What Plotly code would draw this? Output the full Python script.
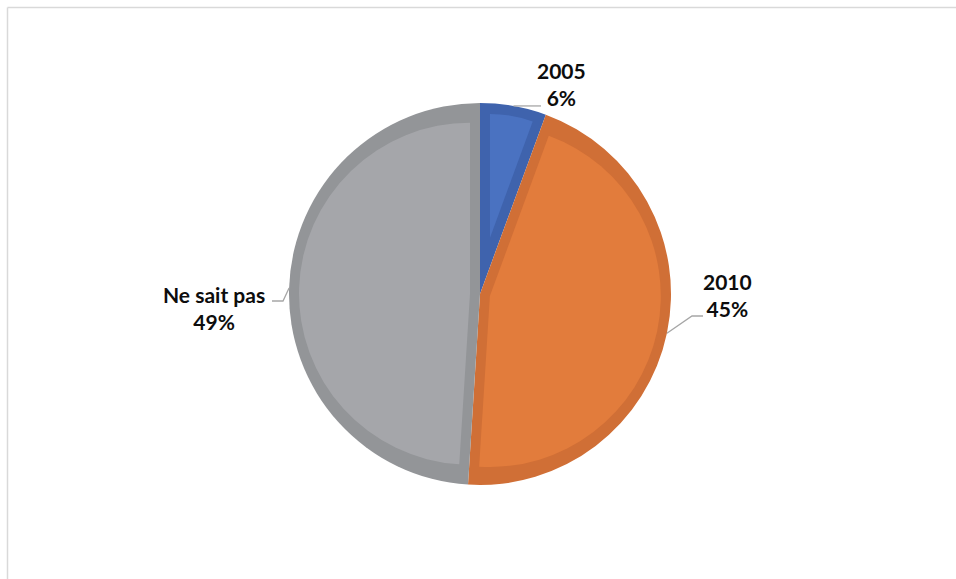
import math
import plotly.graph_objects as go

# ---- data ----
categories = ["2005", "2010", "Ne sait pas"]
values = [5.6, 45.4, 49.0]

# ---- styles ----
light_colors = ["#4A72C1", "#E27C3C", "#A5A6AA"]
dark_colors = ["#3F63AD", "#D06F36", "#939598"]

W, H = 956, 579
CX, CY = 480, 294       # pie centre (px)
R = 191                 # pie radius (px)
BAND = 10               # darker inner border width (px)

# label block centres and leader waypoints (px)
label_pos = {"2005": (561, 84), "2010": (727, 295), "Ne sait pas": (214, 308)}
leader_pts = {"2005": [(541, None)], "2010": [(692, 316), (703, 316)],
              "Ne sait pas": [(283, 301), (272, 301)]}


def px(x, y):
    return x / W, 1 - y / H


def domain(half):
    return dict(x=[(CX - half) / W, (CX + half) / W],
                y=[1 - (CY + half) / H, 1 - (CY - half) / H])


n = len(categories)
total = sum(values)
fracs = [v / total for v in values]

fig = go.Figure()

# dark full pie (border colour)
fig.add_trace(go.Pie(labels=categories, values=values, sort=False,
                     direction="clockwise", rotation=0,
                     marker=dict(colors=dark_colors, line=dict(width=0)),
                     textinfo="none", hoverinfo="skip", showlegend=False,
                     domain=domain(R)))

# lighter inset slices (one trace per slice, offset with pull)
inner = R - BAND
for k in range(n):
    half_angle = math.pi * fracs[k]
    d = BAND / math.sin(half_angle)
    r = inner - d
    pull = [0.0] * n
    pull[k] = d / r
    cols = ["rgba(0,0,0,0)"] * n
    cols[k] = light_colors[k]
    fig.add_trace(go.Pie(labels=categories, values=values, sort=False,
                         direction="clockwise", rotation=0, pull=pull,
                         marker=dict(colors=cols, line=dict(width=0)),
                         textinfo="none", hoverinfo="skip", showlegend=False,
                         domain=domain(inner)))

# labels and leader lines
shapes = []
annotations = []
cum = 0.0
for k, cat in enumerate(categories):
    mid = (cum + fracs[k] / 2) * 2 * math.pi
    cum += fracs[k]
    sx = CX + R * math.sin(mid)
    sy = CY - R * math.cos(mid)
    pts = [(sx, sy)]
    for (x, y) in leader_pts[cat]:
        pts.append((x, sy if y is None else y))
    path = ""
    for i, (x, y) in enumerate(pts):
        X, Y = px(x, y)
        path += ("M" if i == 0 else " L") + f"{X:.5f},{Y:.5f}"
    shapes.append(dict(type="path", xref="paper", yref="paper", path=path,
                       line=dict(color="#A6A6A6", width=1.3)))
    pct = round(fracs[k] * 100)
    lx, ly = px(*label_pos[cat])
    annotations.append(dict(x=lx, y=ly, xref="paper", yref="paper",
                            text=f"<b>{cat}</b><br><b>{pct}%</b>",
                            showarrow=False, align="center",
                            xanchor="center", yanchor="middle",
                            font=dict(family="Lato", size=21, color="#0D0D0D")))

# chart frame (top and left edges visible)
fx0, fy0 = px(7.5, 7.5)
fx1, fy1 = px(W + 5, H + 5)
shapes.append(dict(type="line", xref="paper", yref="paper", x0=fx0, y0=fy0,
                   x1=fx1, y1=fy0, line=dict(color="#D9D9D9", width=1.5)))
shapes.append(dict(type="line", xref="paper", yref="paper", x0=fx0, y0=fy0,
                   x1=fx0, y1=fy1, line=dict(color="#D9D9D9", width=1.5)))

fig.update_layout(width=W, height=H, margin=dict(l=0, r=0, t=0, b=0),
                  paper_bgcolor="white", plot_bgcolor="white",
                  shapes=shapes, annotations=annotations, showlegend=False)

fig.write_html("out.html", config={"displayModeBar": False},
               post_script="document.body.style.margin='0';document.body.style.overflow='hidden';")
